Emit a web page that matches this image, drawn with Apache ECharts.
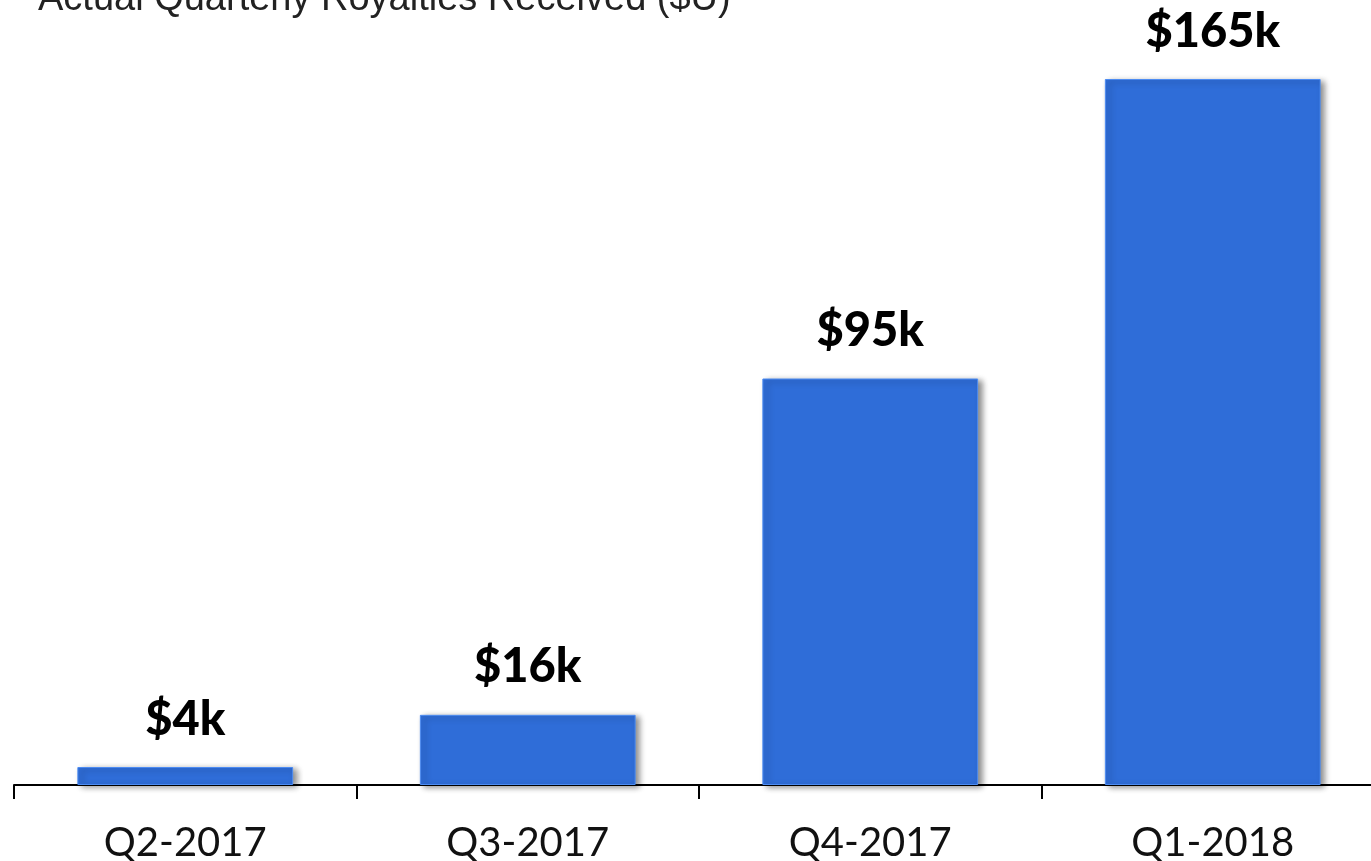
<!DOCTYPE html>
<html>
<head>
<meta charset="utf-8">
<script src="https://cdn.jsdelivr.net/npm/echarts@6/dist/echarts.min.js"></script>
<style>html,body{margin:0;padding:0;background:#fff}#c{width:1371px;height:861px}</style>
</head>
<body>
<div id="c"></div>
<script>
const categories = ['Q2-2017', 'Q3-2017', 'Q4-2017', 'Q1-2018'];
const royalties = [4.2, 16.4, 95, 165];
const labels = ['$4k', '$16k', '$95k', '$165k'];
const titleText = 'Actual Quarterly Royalties Received ($U)';

const chart = echarts.init(document.getElementById('c'));
chart.setOption({
  animation: false,
  title: {
    text: titleText,
    left: 33, top: -24,
    textStyle: { fontFamily: 'Liberation Sans', fontSize: 38, fontWeight: 'normal', color: '#222' }
  },
  grid: { left: 14, width: 1370, top: 79, bottom: 76, containLabel: false, outerBoundsMode: 'none' },
  xAxis: {
    type: 'category',
    data: categories,
    axisLine: { lineStyle: { color: '#000', width: 2 } },
    axisTick: { show: true, length: 14, lineStyle: { color: '#000', width: 2 } },
    axisLabel: { fontFamily: 'Lato', fontSize: 40, color: '#111', margin: 38 }
  },
  yAxis: {
    type: 'value', min: 0, max: 165, show: false,
    splitLine: { show: false }
  },
  series: [{
    type: 'bar',
    data: royalties,
    barWidth: '63%',
    itemStyle: {
      color: '#2f6dd8',
      borderColor: '#4d8cf2', borderWidth: 1,
      shadowColor: 'rgba(0,0,0,0.45)', shadowBlur: 6, shadowOffsetX: 4, shadowOffsetY: 2
    },
    label: {
      show: true, position: 'top', distance: 24,
      formatter: p => labels[p.dataIndex],
      fontFamily: 'Lato', fontWeight: 900, fontSize: 47, color: '#000'
    }
  }]
});
</script>
</body>
</html>
